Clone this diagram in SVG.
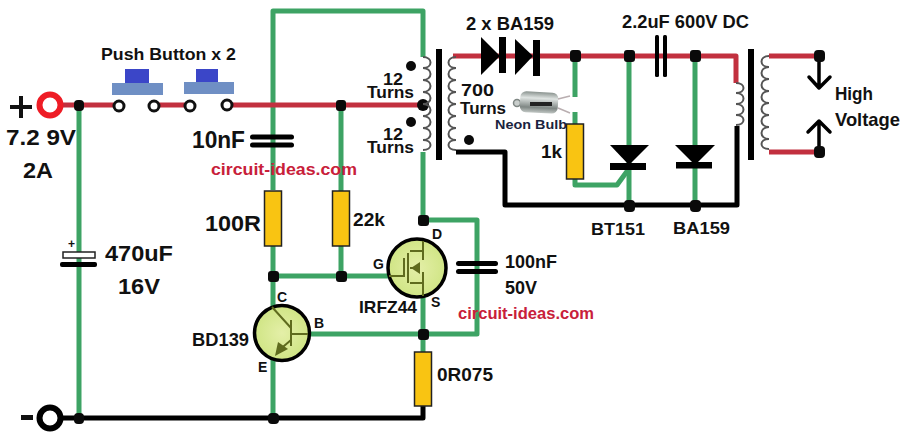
<svg xmlns="http://www.w3.org/2000/svg" width="903" height="437" viewBox="0 0 903 437">
<style>
text{font-family:"Liberation Sans","Noto Sans",sans-serif;font-weight:700;fill:#111}
.w{fill:none;stroke-width:5;stroke-linejoin:round}
.r{stroke:#c2303f}.g{stroke:#3da364}.k{stroke:#000}
.n{fill:#0a0a0a}
.res{fill:#f9c412;stroke:#222;stroke-width:1.5}
.coil{fill:none;stroke:#555;stroke-width:2}
.sw{fill:#fff;stroke:#111;stroke-width:3}
.t{stroke:#5f6b1e;stroke-width:2;fill:none}
</style>
<defs>
<radialGradient id="yg"><stop offset="0" stop-color="#e4efa8"/><stop offset="1" stop-color="#d0e585"/></radialGradient>
<linearGradient id="glass" x1="0" y1="0" x2="0" y2="1"><stop offset="0" stop-color="#8a938f"/><stop offset=".3" stop-color="#dfe4e2"/><stop offset=".75" stop-color="#7f8784"/><stop offset="1" stop-color="#c2c8c5"/></linearGradient>
</defs>
<g id="connectors">
<path class="w g" d="M79 105V418"/>
<path class="w g" d="M273 190V11H423V57"/>
<path class="w g" d="M423 152V220M423 220H477V334H310"/>
<path class="w g" d="M423 290V352"/>
<path class="w g" d="M273 246V310M273 358V418"/>
<path class="w g" d="M273 276H390"/>
<path class="w g" d="M341 105V191M341 246V276"/>
<path class="w g" d="M575 56V97M575 112V125M575 179V185H617L628 170"/>
<path class="w g" d="M629 56V205M695 56V205"/>
<path class="w r" d="M60 105H117M156 105H188M229 105H423"/>
<path class="w r" d="M453 56H736V83"/>
<path class="w r" d="M769 56H819M769 152H819"/>
<path class="w k" d="M456 152H505V205H737V126"/>
<path class="w k" d="M62 418H423V406"/>
<path class="w k" stroke-linecap="round" d="M819 56V88M809 77L819 88L830 77M819 152V121M808 132L819 121L830 132" style="stroke-width:3.5"/>
</g>
<g id="terminal-plus"><circle cx="50" cy="105" r="10.5" fill="#fff" stroke="#ee1c25" stroke-width="6"/><path d="M10 107H32M21 96V118" stroke="#111" stroke-width="4"/></g>
<g id="terminal-minus"><circle cx="50" cy="418" r="10.5" fill="#fff" stroke="#000" stroke-width="6"/><rect x="21" y="415" width="12" height="5" fill="#111"/></g>
<g id="junctions">
<rect class="n" x="74" y="100" width="10" height="11" rx="4"/>
<rect class="n" x="74" y="413" width="10" height="11" rx="4"/>
<rect class="n" x="336" y="100" width="10" height="11" rx="3"/>
<circle class="n" cx="423" cy="105" r="6"/>
<rect class="n" x="570" y="50" width="11" height="12" rx="3"/>
<rect class="n" x="624" y="50" width="11" height="12" rx="3"/>
<rect class="n" x="690" y="50" width="11" height="12" rx="3"/>
<rect class="n" x="814" y="50" width="11" height="12" rx="4"/>
<rect class="n" x="814" y="146" width="11" height="12" rx="4"/>
<rect class="n" x="624" y="200" width="11" height="12" rx="4"/>
<rect class="n" x="690" y="200" width="11" height="12" rx="4"/>
<rect class="n" x="418" y="215" width="11" height="11" rx="3"/>
<rect class="n" x="268" y="271" width="11" height="11" rx="3"/>
<rect class="n" x="336" y="271" width="11" height="11" rx="3"/>
<rect class="n" x="418" y="329" width="11" height="11" rx="3"/>
<rect class="n" x="268" y="413" width="11" height="11" rx="4"/>
</g>
<g id="push-buttons">
<rect x="125" y="69" width="24" height="14" fill="#3b46c8"/><rect x="112" y="83" width="51" height="12" fill="#6f8fc4"/>
<rect x="196" y="69" width="22" height="13" fill="#3b46c8"/><rect x="184" y="82" width="50" height="12" fill="#6f8fc4"/>
<circle class="sw" cx="119" cy="106" r="5"/><circle class="sw" cx="154" cy="106" r="5"/><circle class="sw" cx="190" cy="106" r="5"/><circle class="sw" cx="227" cy="105" r="5"/>
<text x="101" y="60" font-size="17" textLength="135" lengthAdjust="spacingAndGlyphs">Push Button x 2</text>
</g>
<g id="supply-label">
<text x="6" y="145" font-size="22" textLength="70" lengthAdjust="spacingAndGlyphs">7.2 9V</text>
<text x="23" y="178" font-size="22" textLength="30" lengthAdjust="spacingAndGlyphs">2A</text>
</g>
<g id="c-470uF">
<rect x="63" y="252" width="32" height="6" fill="#fff" stroke="#222" stroke-width="1.5"/>
<rect x="60" y="262" width="37" height="5" rx="2" fill="#000"/>
<text x="68" y="248" font-size="12">+</text>
<text x="105" y="261" font-size="22" textLength="68" lengthAdjust="spacingAndGlyphs">470uF</text>
<text x="118" y="294" font-size="22" textLength="42" lengthAdjust="spacingAndGlyphs">16V</text>
</g>
<g id="c-10nF">
<rect x="250" y="134.500" width="44" height="5" rx="2.500" fill="#000"/><rect x="250" y="142.500" width="44" height="5" rx="2.500" fill="#000"/>
<text x="192" y="148" font-size="23" textLength="53" lengthAdjust="spacingAndGlyphs">10nF</text>
</g>
<g id="r-100R"><rect class="res" x="264.500" y="191" width="17" height="55"/><text x="205" y="231" font-size="22" textLength="56" lengthAdjust="spacingAndGlyphs">100R</text></g>
<g id="r-22k"><rect class="res" x="332.500" y="191" width="17" height="55"/><text x="353" y="226" font-size="19" textLength="32" lengthAdjust="spacingAndGlyphs">22k</text></g>
<g id="watermark-1"><text x="211" y="175" font-size="16.500" style="fill:#c8203a" textLength="146" lengthAdjust="spacingAndGlyphs">circuit-ideas.com</text></g>
<g id="transformer-primary">
<path class="coil" d="M423 57c10 0 10 11 0 11c10 0 10 12 0 12c10 0 10 12 0 12c10 0 10 12 0 12c10 0 10 12 0 12c10 0 10 12 0 12c10 0 10 12 0 12c10 0 10 10 0 10"/>
<rect x="436" y="49" width="6" height="111" fill="#000"/>
<circle class="n" cx="411" cy="66" r="5"/><circle class="n" cx="411" cy="122" r="5"/>
<text x="383" y="85" font-size="16" textLength="20" lengthAdjust="spacingAndGlyphs">12</text>
<text x="367" y="98" font-size="16" textLength="47" lengthAdjust="spacingAndGlyphs">Turns</text>
<text x="383" y="140" font-size="16" textLength="20" lengthAdjust="spacingAndGlyphs">12</text>
<text x="367" y="153" font-size="16" textLength="47" lengthAdjust="spacingAndGlyphs">Turns</text>
</g>
<g id="transformer-secondary">
<path class="coil" d="M456 57c-10 0-10 11 0 11c-10 0-10 12 0 12c-10 0-10 12 0 12c-10 0-10 12 0 12c-10 0-10 12 0 12c-10 0-10 12 0 12c-10 0-10 12 0 12c-10 0-10 10 0 10"/>
<circle class="n" cx="469" cy="140" r="5"/>
<text x="461" y="96" font-size="17" textLength="33" lengthAdjust="spacingAndGlyphs">700</text>
<text x="460" y="114" font-size="17" textLength="46" lengthAdjust="spacingAndGlyphs">Turns</text>
</g>
<g id="d-ba159-pair">
<path d="M481 37V75L500 56Z" fill="#000"/><rect x="499" y="37" width="7" height="36" fill="#000"/>
<path d="M515 39V75L533 56Z" fill="#000"/><rect x="533" y="40" width="7" height="36" fill="#000"/>
<text x="466" y="30" font-size="18" textLength="88" lengthAdjust="spacingAndGlyphs">2 x BA159</text>
</g>
<g id="c-2u2">
<rect x="655" y="35" width="4" height="42" rx="1.500" fill="#000"/><rect x="663" y="35" width="4" height="42" rx="1.500" fill="#000"/>
<text x="622" y="28" font-size="18" textLength="127" lengthAdjust="spacingAndGlyphs">2.2uF 600V DC</text>
</g>
<g id="neon-bulb">
<circle cx="517" cy="103" r="3.500" fill="#c9cecc" stroke="#7f8784" stroke-width="1.500"/>
<rect x="520" y="92" width="38" height="21" rx="6" fill="url(#glass)" transform="rotate(3 540 103)"/>
<rect x="530" y="102" width="22" height="4" fill="#222"/>
<path d="M558 99L570 96M558 108L570 113" stroke="#b9aeb0" stroke-width="1.500"/>
<text x="495" y="129" font-size="13.500" style="fill:#1a2340" textLength="72" lengthAdjust="spacingAndGlyphs">Neon Bulb</text>
</g>
<g id="r-1k"><rect class="res" x="566.500" y="124" width="17" height="55"/><text x="541" y="158" font-size="19" textLength="21" lengthAdjust="spacingAndGlyphs">1k</text></g>
<g id="scr-bt151">
<path d="M610 145H649L629 165Z" fill="#000"/><rect x="610" y="163" width="36" height="7" fill="#000"/>
<text x="591" y="235" font-size="17" textLength="54" lengthAdjust="spacingAndGlyphs">BT151</text>
</g>
<g id="d-ba159">
<path d="M675 145H715L695 165Z" fill="#000"/><rect x="676" y="162" width="36" height="6.500" fill="#000"/>
<text x="673" y="234" font-size="17" textLength="57" lengthAdjust="spacingAndGlyphs">BA159</text>
</g>
<g id="output-transformer">
<path class="coil" d="M736 83c10 0 10 10 0 10c10 0 10 11 0 11c10 0 10 11 0 11c10 0 10 10 0 10"/>
<rect x="748" y="49" width="6" height="111" fill="#000"/>
<path class="coil" d="M769 56c-10 0-10 11 0 11c-10 0-10 12 0 12c-10 0-10 12 0 12c-10 0-10 12 0 12c-10 0-10 12 0 12c-10 0-10 12 0 12c-10 0-10 12 0 12c-10 0-10 10 0 10"/>
<text x="835" y="100" font-size="19" textLength="38" lengthAdjust="spacingAndGlyphs">High</text>
<text x="835" y="126" font-size="19" textLength="65" lengthAdjust="spacingAndGlyphs">Voltage</text>
</g>
<g id="q-irfz44">
<circle cx="417" cy="268" r="29" fill="url(#yg)" stroke="#000" stroke-width="3.500"/>
<path class="t" d="M389 276H404V258M408 253V283M410 251H423V241M410 283H423V296M423 251V260M423 272V283M410 268H420"/>
<path d="M411 268L420 262V274Z" fill="#5f6b1e"/>
<text x="432" y="239" font-size="14">D</text>
<text x="373" y="269" font-size="14">G</text>
<text x="431" y="307" font-size="14">S</text>
<text x="359" y="313" font-size="17" textLength="58" lengthAdjust="spacingAndGlyphs">IRFZ44</text>
</g>
<g id="c-100nF">
<rect x="456" y="261" width="42" height="5" rx="2.500" fill="#000"/><rect x="456" y="269" width="42" height="5" rx="2.500" fill="#000"/>
<text x="505" y="268" font-size="18" textLength="52" lengthAdjust="spacingAndGlyphs">100nF</text>
<text x="505" y="294" font-size="18" textLength="32" lengthAdjust="spacingAndGlyphs">50V</text>
</g>
<g id="watermark-2"><text x="458" y="319" font-size="16" style="fill:#c8203a" textLength="136" lengthAdjust="spacingAndGlyphs">circuit-ideas.com</text></g>
<g id="q-bd139">
<circle cx="282" cy="333" r="27.500" fill="url(#yg)" stroke="#000" stroke-width="3.500"/>
<path class="t" d="M272 307L291 328M291 320V346M291 334H308M291 340L277 352"/>
<path d="M275 356L278 342L288 349Z" fill="#5f6b1e"/>
<text x="277" y="302" font-size="14">C</text>
<text x="314" y="328" font-size="14">B</text>
<text x="258" y="372" font-size="14">E</text>
<text x="192" y="346" font-size="18" textLength="57" lengthAdjust="spacingAndGlyphs">BD139</text>
</g>
<g id="r-0R075"><rect class="res" x="414.500" y="352" width="17" height="54"/><text x="437" y="381" font-size="18" textLength="56" lengthAdjust="spacingAndGlyphs">0R075</text></g>
</svg>
